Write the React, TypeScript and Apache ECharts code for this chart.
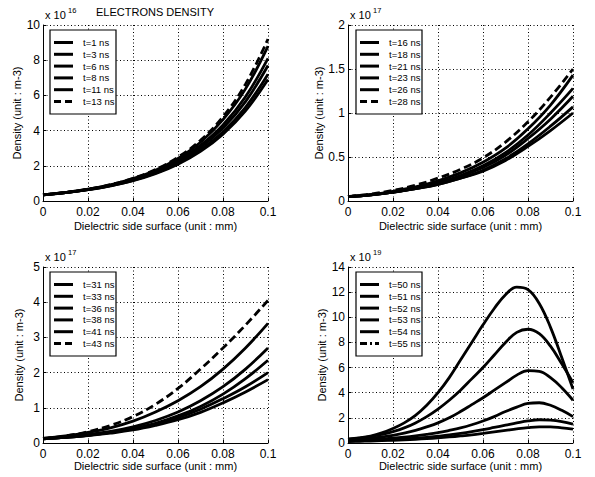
import React, { useEffect, useRef } from "react";
import * as echarts from "echarts";

// ---------- data ----------
const xs11 = [0, 0.01, 0.02, 0.03, 0.04, 0.05, 0.06, 0.07, 0.08, 0.09, 0.1];
const xs21 = [0, 0.005, 0.01, 0.015, 0.02, 0.025, 0.03, 0.035, 0.04, 0.045, 0.05, 0.055, 0.06, 0.065, 0.07, 0.075, 0.08, 0.085, 0.09, 0.095, 0.1];

// panel 1 (x 1e16)
const p1Names = ["t=1 ns", "t=3 ns", "t=6 ns", "t=8 ns", "t=11 ns", "t=13 ns"];
const p1_t1 = [0.35, 0.47, 0.64, 0.86, 1.15, 1.55, 2.09, 2.82, 3.8, 5.12, 6.9];
const p1_t3 = [0.35, 0.47, 0.64, 0.87, 1.17, 1.59, 2.15, 2.91, 3.93, 5.32, 7.2];
const p1_t6 = [0.35, 0.48, 0.65, 0.88, 1.21, 1.64, 2.24, 3.05, 4.15, 5.65, 7.7];
const p1_t8 = [0.35, 0.48, 0.66, 0.9, 1.23, 1.68, 2.31, 3.16, 4.32, 5.92, 8.1];
const p1_t11 = [0.35, 0.48, 0.67, 0.92, 1.27, 1.75, 2.42, 3.34, 4.62, 6.37, 8.8];
const p1_t13 = [0.35, 0.49, 0.67, 0.93, 1.29, 1.79, 2.49, 3.45, 4.79, 6.64, 9.2];

// panel 2 (x 1e17)
const p2Names = ["t=16 ns", "t=18 ns", "t=21 ns", "t=23 ns", "t=26 ns", "t=28 ns"];
const p2_t16 = [0.05, 0.07, 0.1, 0.14, 0.19, 0.26, 0.34, 0.46, 0.62, 0.8, 1.0];
const p2_t18 = [0.05, 0.07, 0.1, 0.14, 0.19, 0.26, 0.35, 0.48, 0.65, 0.85, 1.07];
const p2_t21 = [0.05, 0.07, 0.1, 0.14, 0.2, 0.28, 0.38, 0.52, 0.71, 0.93, 1.19];
const p2_t23 = [0.05, 0.07, 0.1, 0.15, 0.21, 0.29, 0.4, 0.55, 0.75, 1.0, 1.28];
const p2_t26 = [0.05, 0.07, 0.11, 0.16, 0.23, 0.32, 0.44, 0.6, 0.82, 1.09, 1.43];
const p2_t28 = [0.05, 0.08, 0.12, 0.18, 0.26, 0.36, 0.49, 0.67, 0.9, 1.18, 1.5];

// panel 3 (x 1e17)
const p3Names = ["t=31 ns", "t=33 ns", "t=36 ns", "t=38 ns", "t=41 ns", "t=43 ns"];
const p3_t31 = [0.12, 0.16, 0.21, 0.28, 0.37, 0.5, 0.66, 0.87, 1.14, 1.45, 1.8];
const p3_t33 = [0.12, 0.16, 0.22, 0.3, 0.4, 0.54, 0.72, 0.96, 1.26, 1.6, 2.0];
const p3_t36 = [0.12, 0.16, 0.22, 0.3, 0.41, 0.56, 0.77, 1.04, 1.39, 1.83, 2.35];
const p3_t38 = [0.12, 0.17, 0.24, 0.33, 0.46, 0.64, 0.88, 1.2, 1.6, 2.1, 2.7];
const p3_t41 = [0.13, 0.2, 0.3, 0.43, 0.62, 0.88, 1.2, 1.6, 2.1, 2.7, 3.4];
const p3_t43 = [0.13, 0.2, 0.32, 0.5, 0.75, 1.1, 1.55, 2.1, 2.7, 3.35, 4.05];

// panel 4 (x 1e19)
const p4Names = ["t=50 ns", "t=51 ns", "t=52 ns", "t=53 ns", "t=54 ns", "t=55 ns"];
const p4_t50 = [0.12, 0.14, 0.16, 0.19, 0.22, 0.26, 0.3, 0.35, 0.41, 0.48, 0.56, 0.65, 0.76, 0.88, 1.0, 1.12, 1.22, 1.28, 1.28, 1.2, 1.1];
const p4_t51 = [0.15, 0.17, 0.2, 0.23, 0.27, 0.32, 0.38, 0.45, 0.54, 0.64, 0.76, 0.9, 1.06, 1.24, 1.42, 1.6, 1.76, 1.85, 1.82, 1.7, 1.5];
const p4_t52 = [0.2, 0.23, 0.27, 0.32, 0.38, 0.46, 0.56, 0.68, 0.82, 1.0, 1.2, 1.45, 1.75, 2.1, 2.5, 2.85, 3.15, 3.2, 3.0, 2.6, 2.1];
const p4_t53 = [0.25, 0.3, 0.38, 0.48, 0.6, 0.78, 1.0, 1.28, 1.6, 2.0, 2.5, 3.05, 3.6, 4.2, 4.8, 5.4, 5.75, 5.7, 5.2, 4.4, 3.4];
const p4_t54 = [0.3, 0.38, 0.5, 0.68, 0.9, 1.2, 1.6, 2.1, 2.7, 3.4, 4.2, 5.1, 6.0, 7.0, 8.0, 8.8, 9.05, 8.7, 7.7, 6.3, 4.8];
const p4_t55 = [0.3, 0.4, 0.55, 0.8, 1.15, 1.6, 2.2, 3.0, 4.0, 5.2, 6.6, 8.0, 9.4, 10.7, 11.8, 12.4, 12.2, 11.1, 9.2, 6.8, 4.3];

const xTitle = "Dielectric side surface (unit : mm)";
const yTitle = "Density (unit : m-3)";
const chartTitle = "ELECTRONS DENSITY";

const FONT = "Liberation Sans, Arial, Helvetica, sans-serif";

type Panel = {
  left: number; top: number; xs: number[]; series: number[][]; names: string[];
  yMax: number; yStep: number; exp: string; lineTypes: any[]; legendDash: (number[] | null)[];
  nameGapX: number;
};

const DASH = [8, 4];
const DASHDOT = [7, 3, 2, 3];

const panels: Panel[] = [
  { left: 43, top: 25, xs: xs11, series: [p1_t1, p1_t3, p1_t6, p1_t8, p1_t11, p1_t13], names: p1Names,
    yMax: 10, yStep: 2, exp: "16", lineTypes: ["solid", "solid", "solid", "solid", "solid", DASH],
    legendDash: [null, null, null, null, null, [7, 4]], nameGapX: 19 },
  { left: 348, top: 25, xs: xs11, series: [p2_t16, p2_t18, p2_t21, p2_t23, p2_t26, p2_t28], names: p2Names,
    yMax: 2, yStep: 0.5, exp: "17", lineTypes: ["solid", "solid", "solid", "solid", "solid", DASH],
    legendDash: [null, null, null, null, null, [7, 4]], nameGapX: 19 },
  { left: 43, top: 267, xs: xs11, series: [p3_t31, p3_t33, p3_t36, p3_t38, p3_t41, p3_t43], names: p3Names,
    yMax: 5, yStep: 1, exp: "17", lineTypes: ["solid", "solid", "solid", "solid", "solid", DASH],
    legendDash: [null, null, null, null, null, [7, 4]], nameGapX: 16 },
  { left: 348, top: 267, xs: xs21, series: [p4_t50, p4_t51, p4_t52, p4_t53, p4_t54, p4_t55], names: p4Names,
    yMax: 14, yStep: 2, exp: "19", lineTypes: ["solid", "solid", "solid", "solid", "solid", "solid"],
    legendDash: [null, null, null, null, null, DASHDOT], nameGapX: 16 },
];

const GW = 225;
const GH = 176;

export default function App() {
  const ref = useRef<HTMLDivElement>(null);
  useEffect(() => {
    if (!ref.current) return;
    const chart = echarts.init(ref.current, null, { renderer: "svg" });

    const grid = panels.map((p) => ({ left: p.left, top: p.top, width: GW, height: GH, show: false }));
    const xAxis = panels.map((p, i) => ({
      type: "value", gridIndex: i, min: 0, max: 0.1, interval: 0.02,
      name: xTitle, nameLocation: "middle", nameGap: p.nameGapX,
      nameTextStyle: { color: "#000", fontSize: 11, fontFamily: FONT },
      axisLine: { show: true, onZero: false, lineStyle: { color: "#000", width: 1 } },
      axisTick: { show: true, inside: true, length: 3, lineStyle: { color: "#000" } },
      axisLabel: { color: "#000", fontSize: 12, fontFamily: FONT, margin: 5,
        formatter: (v: number) => String(Math.round(v * 100) / 100) },
      splitLine: { show: true, lineStyle: { color: "#000", width: 1, type: [1, 2.5] } },
    }));
    const yAxis = panels.map((p, i) => ({
      type: "value", gridIndex: i, min: 0, max: p.yMax, interval: p.yStep,
      name: yTitle, nameLocation: "middle", nameGap: 19, nameRotate: 90,
      nameTextStyle: { color: "#000", fontSize: 11, fontFamily: FONT },
      axisLine: { show: true, onZero: false, lineStyle: { color: "#000", width: 1 } },
      axisTick: { show: true, inside: true, length: 3, lineStyle: { color: "#000" } },
      axisLabel: { color: "#000", fontSize: 12, fontFamily: FONT, margin: 3,
        formatter: (v: number) => String(Math.round(v * 100) / 100) },
      splitLine: { show: true, lineStyle: { color: "#000", width: 1, type: [1, 2.5] } },
    }));

    const series: any[] = [];
    panels.forEach((p, i) => {
      p.series.forEach((ys, k) => {
        series.push({
          type: "line", name: p.names[k], xAxisIndex: i, yAxisIndex: i,
          data: p.xs.map((x, j) => [x, ys[j]]),
          symbol: "none", showSymbol: false, smooth: 0.4, silent: true,
          lineStyle: { color: "#000", width: 2.8, type: p.lineTypes[k] },
        });
      });
    });

    const graphic: any[] = [];
    graphic.push({
      type: "text", left: undefined, x: 155, y: 12, z: 100,
      style: { text: chartTitle, fontSize: 11, fontFamily: FONT, fill: "#000", align: "center", verticalAlign: "middle" },
    });
    panels.forEach((p) => {
      graphic.push({
        type: "text", x: p.left + 2, y: p.top - 10, z: 100,
        style: { text: "x 10", fontSize: 11, fontFamily: FONT, fill: "#000", align: "left", verticalAlign: "middle" },
      });
      graphic.push({
        type: "text", x: p.left + 25, y: p.top - 15, z: 100,
        style: { text: p.exp, fontSize: 7.5, fontFamily: FONT, fill: "#000", align: "left", verticalAlign: "middle" },
      });
      const lx = p.left + (p.left < 100 ? 7 : 8);
      const ly = p.top + (p.top < 100 ? 5 : 5);
      graphic.push({
        type: "rect", z: 100, shape: { x: lx, y: ly, width: 66, height: 84 },
        style: { fill: "#fff", stroke: "#000", lineWidth: 1.2 },
      });
      p.names.forEach((n, k) => {
        const ry = ly + 12.5 + 11.8 * k;
        const dash = p.legendDash[k];
        graphic.push({
          type: "line", z: 101, shape: { x1: lx + 4, y1: ry, x2: lx + 23, y2: ry },
          style: { stroke: "#000", lineWidth: 3, lineDash: dash || undefined },
        });
        graphic.push({
          type: "text", z: 101, x: lx + 33, y: ry,
          style: { text: n, fontSize: 9.5, fontFamily: FONT, fill: "#000", align: "left", verticalAlign: "middle" },
        });
      });
    });

    chart.setOption({
      animation: false,
      backgroundColor: "#fff",
      grid, xAxis, yAxis, series, graphic,
    } as any);
    return () => chart.dispose();
  }, []);
  return (
    <div ref={ref} style={{ position: "absolute", left: 0, top: 0, width: 595, height: 477, background: "#fff" }} />
  );
}
